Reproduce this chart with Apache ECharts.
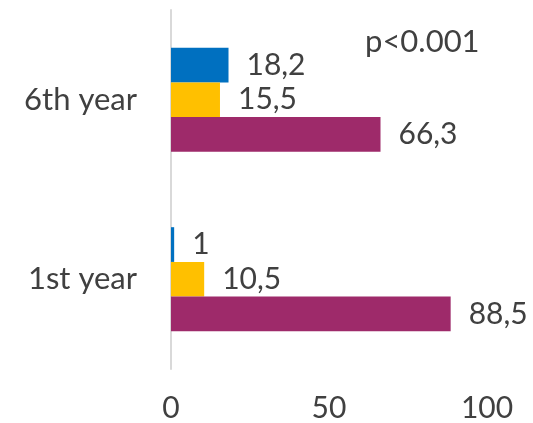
<!DOCTYPE html>
<html><head><meta charset="utf-8">
<script src="https://cdn.jsdelivr.net/npm/echarts@6/dist/echarts.min.js"></script>
<style>html,body{margin:0;padding:0;background:#fff}#c{width:533px;height:423px}</style>
</head><body><div id="c"></div>
<script>
const categories = ['1st year', '6th year'];
const seriesBlue = [1, 18.2];
const seriesYellow = [10.5, 15.5];
const seriesPurple = [88.5, 66.3];
const xTicks = [0, 50, 100];

const fontFam = 'Lato, "Open Sans", sans-serif';
const txt = '#404040';
function fmt(p){ return String(p.value).replace('.', ','); }
function mk(name, data, color){
  return {
    name, type: 'bar', data, barGap: '0%', barCategoryGap: '42%',
    itemStyle: { color },
    label: { show: true, position: 'right', distance: 18, formatter: fmt,
      color: txt, fontSize: 30, fontFamily: fontFam }
  };
}
const chart = echarts.init(document.getElementById('c'));
chart.setOption({
  animation: false,
  grid: { left: 171, right: 46, top: 10, bottom: 53, containLabel: false },
  xAxis: { type: 'value', min: 0, max: 100, interval: 50,
    axisLine: { show: false }, axisTick: { show: false }, splitLine: { show: false },
    axisLabel: { color: txt, fontSize: 30, fontFamily: fontFam, margin: 24,
      formatter: v => xTicks.includes(v) ? String(v) : '' } },
  yAxis: { type: 'category', data: categories,
    axisLine: { show: true, lineStyle: { color: '#D9D9D9', width: 2 } },
    axisTick: { show: false },
    axisLabel: { color: txt, fontSize: 31, fontFamily: fontFam, margin: 34 } },
  graphic: [{ type: 'text', left: 365, top: 26,
    style: { text: 'p<0.001', fill: txt, fontSize: 31, fontFamily: fontFam } }],
  series: [
    mk('Blue', seriesBlue, '#0070C0'),
    mk('Yellow', seriesYellow, '#FFC000'),
    mk('Purple', seriesPurple, '#9E2A6A')
  ]
});
</script></body></html>
